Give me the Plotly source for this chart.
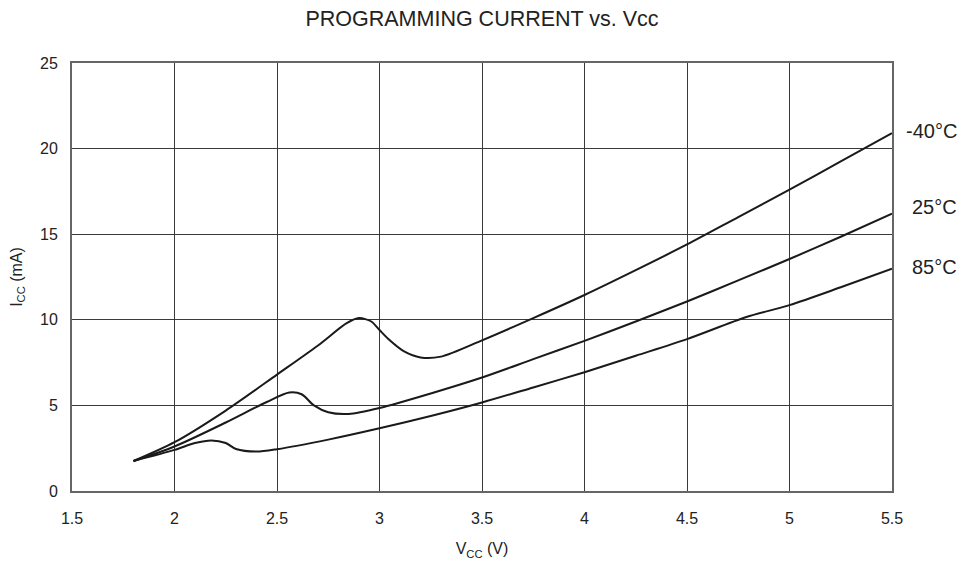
import plotly.graph_objects as go

# Vcc (V) / Icc (mA)
vcc_m40 = [1.8, 2.0, 2.25, 2.5, 2.7, 2.84, 2.9, 2.96, 3.0, 3.05, 3.12, 3.2, 3.3, 3.5, 3.75, 4.0, 4.25, 4.5, 4.75, 5.0, 5.25, 5.5]
icc_m40 = [1.75, 2.85, 4.7, 6.8, 8.5, 9.8, 10.1, 9.9, 9.4, 8.8, 8.15, 7.8, 7.85, 8.8, 10.1, 11.45, 12.9, 14.4, 16.0, 17.6, 19.25, 20.9]

vcc_25 = [1.8, 2.0, 2.25, 2.45, 2.56, 2.62, 2.68, 2.75, 2.85, 3.0, 3.25, 3.5, 3.75, 4.0, 4.25, 4.5, 4.75, 5.0, 5.25, 5.5]
icc_25 = [1.75, 2.6, 4.0, 5.2, 5.75, 5.65, 5.0, 4.6, 4.5, 4.85, 5.7, 6.63, 7.7, 8.77, 9.9, 11.07, 12.3, 13.55, 14.85, 16.2]

vcc_85 = [1.8, 2.0, 2.1, 2.18, 2.25, 2.3, 2.4, 2.5, 2.75, 3.0, 3.25, 3.5, 3.75, 4.0, 4.25, 4.5, 4.79, 5.0, 5.25, 5.5]
icc_85 = [1.75, 2.4, 2.8, 2.95, 2.8, 2.45, 2.3, 2.44, 3.0, 3.66, 4.38, 5.17, 6.05, 6.94, 7.9, 8.87, 10.16, 10.86, 11.9, 12.98]

labels = ['-40°C', '25°C', '85°C']
label_y = [21.0, 16.6, 13.1]

fig = go.Figure()
for xs, ys in [(vcc_m40, icc_m40), (vcc_25, icc_25), (vcc_85, icc_85)]:
    fig.add_trace(go.Scatter(x=xs, y=ys, mode='lines',
                             line=dict(color='#1a1a1a', width=2, shape='spline', smoothing=0.8),
                             showlegend=False, hoverinfo='skip'))

# temperature labels sit right of the plot
for txt, yv in zip(labels, label_y):
    fig.add_annotation(x=1.082, y=yv, xref='paper', yref='y', text=txt, showarrow=False,
                       xanchor='right', yanchor='middle', font=dict(size=20, color='#222'))

axis_style = dict(showgrid=True, gridcolor='#3a3a3a', gridwidth=1,
                  showline=True, linecolor='#666', linewidth=2, mirror=True,
                  ticks='', zeroline=False, automargin=False,
                  tickfont=dict(size=16, color='#222'))

fig.update_xaxes(range=[1.5, 5.5], tickvals=[1.5, 2, 2.5, 3, 3.5, 4, 4.5, 5, 5.5],
                 ticktext=['1.5', '2', '2.5', '3', '3.5', '4', '4.5', '5', '5.5'],
                 ticklabelstandoff=12,
                 title=dict(text='V<sub>CC</sub> (V)', font=dict(size=16, color='#222'), standoff=17),
                 **axis_style)
fig.update_yaxes(range=[0, 25], dtick=5, ticklabelstandoff=9,
                 title=dict(text='I<sub>CC</sub> (mA)', font=dict(size=16, color='#222'), standoff=14),
                 **axis_style)

# the page adds an 8px body margin, so the margins are shifted to compensate
fig.update_layout(
    width=976, height=566,
    margin=dict(l=64, r=92, t=55, b=83),
    paper_bgcolor='white', plot_bgcolor='white',
    font=dict(family='Liberation Sans, Arial, sans-serif', color='#222'),
    title=dict(text='PROGRAMMING CURRENT vs. Vcc', x=0.5, xanchor='center', xref='paper',
               y=1 - 10 / 566, yanchor='middle', font=dict(size=21.5, color='#222')),
)

fig.write_html("out.html")
